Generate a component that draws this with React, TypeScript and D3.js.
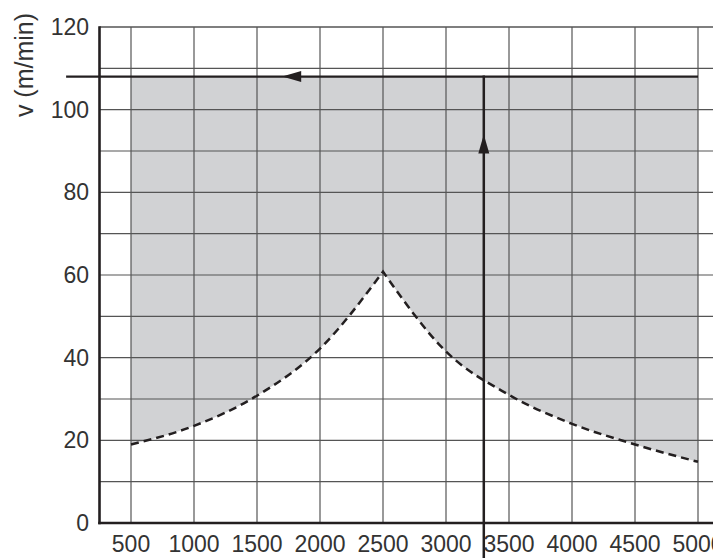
import React from "react";
import * as d3 from "d3";

const W = 713;
const H = 558;

// x categories / ticks
const xTicks = [500, 1000, 1500, 2000, 2500, 3000, 3500, 4000, 4500, 5000];
const yTicks = [0, 20, 40, 60, 80, 100, 120];
const yGrid = [0, 10, 20, 30, 40, 50, 60, 70, 80, 90, 100, 110, 120];

// dashed boundary curve (two branches meeting at a cusp)
const leftX = [500, 1000, 1500, 2000, 2500];
const leftV = [19, 23.5, 30.8, 42.2, 60.8];
const rightX = [2500, 3000, 3500, 4000, 4500, 5000];
const rightV = [60.8, 41.5, 31, 24, 19, 14.8];

// operating point lines
const vLevel = 108;
const xLevel = 3300;
const hLineStart = -15;
const hArrowAt = 1700;
const vArrowAt = 94;

const yTitle = "v (m/min)";

export default function App() {
  const x = d3.scaleLinear().domain([0, 5000]).range([68, 698]);
  const y = d3.scaleLinear().domain([0, 120]).range([523, 27]);
  const axisX = x(250);
  const ink = "#231f20";
  const grid = "#555";

  const line = d3
    .line<[number, number]>()
    .x((d) => x(d[0]))
    .y((d) => y(d[1]))
    .curve(d3.curveMonotoneX);
  const leftPts = leftX.map((v, i) => [v, leftV[i]] as [number, number]);
  const rightPts = rightX.map((v, i) => [v, rightV[i]] as [number, number]);
  const dLeft = line(leftPts) || "";
  const dRight = line(rightPts) || "";
  const curveD = dLeft + dRight.replace(/^M/, "L");
  const areaD =
    curveD +
    `L${x(rightX[rightX.length - 1])},${y(vLevel)}L${x(leftX[0])},${y(vLevel)}Z`;

  const hy = y(vLevel);
  const vx = x(xLevel);
  const ax = x(hArrowAt);
  const ay = y(vArrowAt);

  return (
    <svg
      width={W}
      height={H}
      style={{ position: "absolute", left: 0, top: 0, background: "#fff" }}
      fontFamily="'Liberation Sans', Arial, sans-serif"
    >
      <path d={areaD} fill="#d1d2d4" stroke="none" />
      {yGrid.map((v) => (
        <line
          key={"h" + v}
          x1={axisX}
          x2={W + 5}
          y1={y(v)}
          y2={y(v)}
          stroke={grid}
          strokeWidth={v === 120 ? 1.6 : 1.2}
        />
      ))}
      {xTicks.map((v) => (
        <line
          key={"v" + v}
          x1={x(v)}
          x2={x(v)}
          y1={y(120)}
          y2={y(0)}
          stroke={grid}
          strokeWidth={1.2}
        />
      ))}
      <path
        d={curveD}
        fill="none"
        stroke={ink}
        strokeWidth={2.5}
        strokeDasharray="8,5"
      />
      {/* axes */}
      <line x1={axisX} x2={axisX} y1={y(120) - 0.8} y2={y(0) + 1.2} stroke={ink} strokeWidth={2.6} />
      <line x1={axisX - 1.3} x2={W + 5} y1={y(0)} y2={y(0)} stroke={ink} strokeWidth={2.6} />
      {/* operating lines */}
      <line x1={x(hLineStart)} x2={x(5000)} y1={hy} y2={hy} stroke={ink} strokeWidth={2.4} />
      <line x1={vx} x2={vx} y1={hy - 1.2} y2={H + 5} stroke={ink} strokeWidth={2.5} />
      <path d={`M${ax},${hy}L${ax + 19},${hy - 5.5}L${ax + 19},${hy + 5.5}Z`} fill={ink} />
      <path d={`M${vx},${ay}L${vx - 5.5},${ay + 19}L${vx + 5.5},${ay + 19}Z`} fill={ink} />
      {/* tick labels */}
      {yTicks.map((v) => (
        <text
          key={"yl" + v}
          x={89}
          y={y(v)}
          dy="0.35em"
          textAnchor="end"
          fontSize={23}
          fill="#333"
        >
          {v}
        </text>
      ))}
      {xTicks.map((v) => (
        <text
          key={"xl" + v}
          x={x(v)}
          y={552}
          textAnchor="middle"
          fontSize={23}
          fill="#333"
        >
          {v}
        </text>
      ))}
      <text
        transform={`translate(33,65) rotate(-90)`}
        textAnchor="middle"
        fontSize={25}
        fill="#333"
      >
        {yTitle}
      </text>
    </svg>
  );
}
